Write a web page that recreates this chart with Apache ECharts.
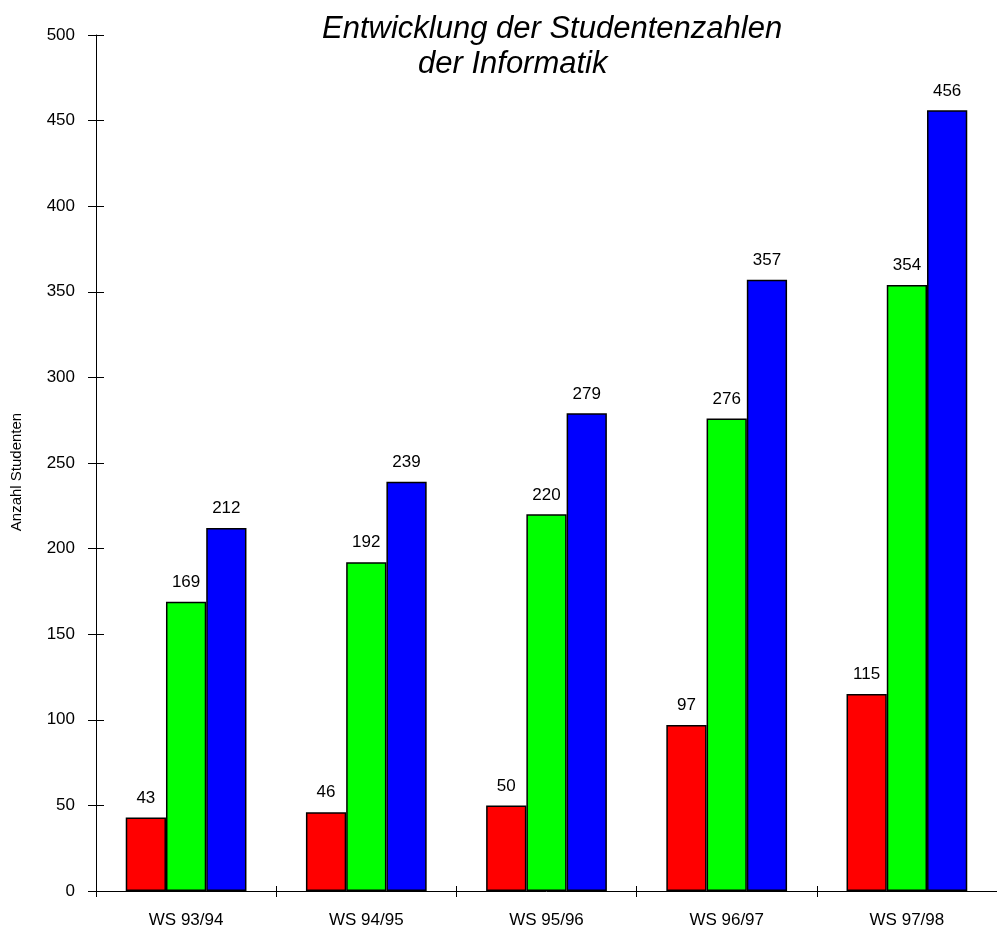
<!DOCTYPE html>
<html lang="de">
<head>
    <meta charset="UTF-8">
    <title>Studentenzahlen Informatik</title>
    <script src="https://cdn.jsdelivr.net/npm/echarts@6/dist/echarts.min.js"></script>
    <style>
        html, body { margin: 0; padding: 0; background: #fff; }
        #chart { width: 997px; height: 929px; }
    </style>
</head>
<body>
<div id="chart"></div>
<script>
    // Semester (Kategorien)
    var semester = ['WS 93/94', 'WS 94/95', 'WS 95/96', 'WS 96/97', 'WS 97/98']
    // drei Reihen pro Semester
    var reiheRot = [43, 46, 50, 97, 115]
    var reiheGruen = [169, 192, 220, 276, 354]
    var reiheBlau = [212, 239, 279, 357, 456]
    var yTicks = [0, 50, 100, 150, 200, 250, 300, 350, 400, 450, 500]

    var schrift = 'Liberation Sans, Arial, sans-serif'
    var myChart = echarts.init(document.getElementById('chart'))

    function balken(name, data, farbe) {
        return {
            name: name,
            type: 'bar',
            data: data,
            barGap: '0%',
            barCategoryGap: '33%',
            itemStyle: {color: farbe, borderColor: '#000', borderWidth: 1.5},
            label: {
                show: true,
                position: 'top',
                distance: 11,
                color: '#000',
                fontSize: 17,
                fontFamily: schrift
            }
        }
    }

    var option = {
        animation: false,
        backgroundColor: '#fff',
        title: [{
            text: 'Entwicklung der Studentenzahlen',
            left: 317,
            top: 9,
            textStyle: {fontSize: 31, fontStyle: 'italic', fontWeight: 'normal', color: '#000', fontFamily: schrift}
        }, {
            text: 'der Informatik',
            left: 413,
            top: 44,
            textStyle: {fontSize: 31, fontStyle: 'italic', fontWeight: 'normal', color: '#000', fontFamily: schrift}
        }],
        grid: {left: 96, right: -4, top: 35, bottom: 37},
        xAxis: [{
            type: 'category',
            data: semester,
            axisLine: {show: true, lineStyle: {color: '#000', width: 1}},
            axisTick: {show: true, alignWithLabel: false, interval: 0, length: 6, lineStyle: {color: '#000', width: 1}},
            axisLabel: {color: '#000', fontSize: 17, margin: 21, fontFamily: schrift}
        }, {
            // zweite Achse, von oben nach unten verschoben: Ticks ragen nach oben ueber die Grundlinie
            type: 'category',
            data: semester,
            position: 'top',
            offset: -857,
            axisLine: {show: true, onZero: false, lineStyle: {color: '#000', opacity: 0}},
            axisTick: {show: true, alignWithLabel: false, interval: 0, length: 6, lineStyle: {color: '#000', width: 1}},
            axisLabel: {show: false}
        }],
        yAxis: [{
            type: 'value',
            min: yTicks[0],
            max: yTicks[yTicks.length - 1],
            interval: 50,
            name: 'Anzahl Studenten',
            nameLocation: 'middle',
            nameGap: 72,
            nameTextStyle: {color: '#000', fontSize: 15, fontFamily: schrift, padding: [0, 18, 0, 0]},
            splitLine: {show: false},
            axisLine: {show: true, lineStyle: {color: '#000', width: 1}},
            axisTick: {show: true, length: 8, lineStyle: {color: '#000'}},
            axisLabel: {color: '#000', fontSize: 17, margin: 21, fontFamily: schrift}
        }, {
            type: 'value',
            min: yTicks[0],
            max: yTicks[yTicks.length - 1],
            interval: 50,
            position: 'left',
            splitLine: {show: false},
            axisLine: {show: false},
            axisTick: {show: true, inside: true, length: 8, lineStyle: {color: '#000'}},
            axisLabel: {show: false}
        }],
        series: [
            balken('Reihe 1', reiheRot, '#ff0000'),
            balken('Reihe 2', reiheGruen, '#00ff00'),
            balken('Reihe 3', reiheBlau, '#0000ff')
        ]
    }

    myChart.setOption(option)
</script>
</body>
</html>
